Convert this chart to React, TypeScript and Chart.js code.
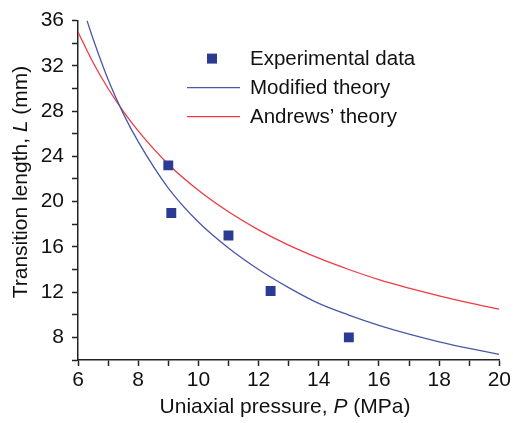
import React, { useEffect, useRef } from "react";
import { Chart, registerables } from "chart.js";

Chart.register(...registerables);

const expP = [9.0, 9.1, 11.0, 12.4, 15.0];
const expL = [23.2, 19.0, 17.0, 12.1, 8.0];

const modP = [6.3, 6.5, 7, 7.5, 8, 9, 10, 11, 12, 13, 14, 15, 16, 17, 18, 19, 20];
const modL = [36.0, 34.4, 30.8, 27.8, 25.3, 21.2, 18.2, 15.9, 14.0, 12.4, 11.0, 9.97, 9.06, 8.28, 7.61, 7.03, 6.5];

const andP = [6, 6.5, 7, 7.5, 8, 9, 10, 11, 12, 13, 14, 15, 16, 17, 18, 19, 20];
const andL = [35.0, 32.3, 30.0, 28.0, 26.25, 23.3, 21.0, 19.1, 17.5, 16.15, 15.0, 14.0, 13.1, 12.35, 11.67, 11.05, 10.5];

const xTicksMin = 6;
const xTicksMax = 20;
const yTicksMin = 6;
const yTicksMax = 36;

const seriesNames = ["Experimental data", "Modified theory", "Andrews\u2019 theory"];
const xTitleParts = [["Uniaxial pressure, ", false], ["P", true], [" (MPa)", false]] as [string, boolean][];
const yTitleParts = [["Transition length, ", false], ["L", true], [" (mm)", false]] as [string, boolean][];

const FONT = '"Liberation Sans", Arial, Helvetica, sans-serif';
const BLUE_M = "#2b3a93";
const BLUE_L = "#4a58a8";
const RED_L = "#ee3b45";

function drawParts(ctx: CanvasRenderingContext2D, parts: [string, boolean][], size: number) {
  let total = 0;
  const widths: number[] = [];
  for (const [t, it] of parts) {
    ctx.font = `${it ? "italic " : ""}${size}px ${FONT}`;
    const w = ctx.measureText(t).width;
    widths.push(w);
    total += w;
  }
  let x = -total / 2;
  parts.forEach(([t, it], i) => {
    ctx.font = `${it ? "italic " : ""}${size}px ${FONT}`;
    ctx.fillText(t, x, 0);
    x += widths[i];
  });
}

const decorPlugin = {
  id: "decor",
  afterDraw(chart: any) {
    const ctx = chart.ctx as CanvasRenderingContext2D;
    const a = chart.chartArea;
    ctx.save();
    ctx.fillStyle = "#111";
    ctx.textBaseline = "middle";
    ctx.textAlign = "left";
    // x title
    ctx.save();
    ctx.translate(285, 407);
    drawParts(ctx, xTitleParts, 21);
    ctx.restore();
    // y title
    ctx.save();
    ctx.translate(21, 182);
    ctx.rotate(-Math.PI / 2);
    drawParts(ctx, yTitleParts, 21);
    ctx.restore();
    // legend
    const lx = a.left + 109;
    const ly = a.top + 38;
    const gap = 29;
    ctx.fillStyle = BLUE_M;
    ctx.fillRect(lx + 20, ly - 5, 10, 10);
    ctx.lineWidth = 1.3;
    ctx.strokeStyle = BLUE_L;
    ctx.beginPath();
    ctx.moveTo(lx, ly + gap);
    ctx.lineTo(lx + 53, ly + gap);
    ctx.stroke();
    ctx.strokeStyle = RED_L;
    ctx.beginPath();
    ctx.moveTo(lx, ly + 2 * gap);
    ctx.lineTo(lx + 53, ly + 2 * gap);
    ctx.stroke();
    ctx.fillStyle = "#111";
    ctx.font = `20.5px ${FONT}`;
    seriesNames.forEach((n, i) => ctx.fillText(n, lx + 63, ly + i * gap + 1));
    ctx.restore();
  },
};

export default function App() {
  const ref = useRef<HTMLCanvasElement>(null);
  useEffect(() => {
    document.body.style.margin = "0";
    const chart = new Chart(ref.current!, {
      type: "scatter",
      data: {
        datasets: [
          {
            type: "scatter",
            label: seriesNames[0],
            data: expP.map((x, i) => ({ x, y: expL[i] })),
            pointStyle: "rect",
            pointRadius: 7,
            backgroundColor: BLUE_M,
            borderColor: BLUE_M,
            borderWidth: 0,
          },
          {
            type: "line",
            label: seriesNames[1],
            data: modP.map((x, i) => ({ x, y: modL[i] })),
            borderColor: BLUE_L,
            borderWidth: 1.3,
            pointRadius: 0,
            cubicInterpolationMode: "monotone",
            fill: false,
          },
          {
            type: "line",
            label: seriesNames[2],
            data: andP.map((x, i) => ({ x, y: andL[i] })),
            borderColor: RED_L,
            borderWidth: 1.3,
            pointRadius: 0,
            cubicInterpolationMode: "monotone",
            fill: false,
          },
        ] as any,
      },
      options: {
        animation: false,
        responsive: false,
        layout: { padding: { top: 20, right: 12, left: 0, bottom: 0 } },
        plugins: { legend: { display: false }, tooltip: { enabled: false } },
        scales: {
          x: {
            type: "linear",
            min: xTicksMin,
            max: xTicksMax,
            afterFit: (s: any) => { s.height = 63; },
            ticks: {
              stepSize: 1,
              autoSkip: false,
              maxRotation: 0,
              color: "#111",
              padding: 2,
              font: { family: FONT, size: 21 },
              callback: (v: any) => (Number(v) % 2 === 0 ? String(v) : ""),
            },
            grid: { display: true, drawOnChartArea: false, drawTicks: true, tickLength: 6, tickColor: "#222", tickWidth: 1.5 },
            border: { display: true, color: "#222", width: 1.5 },
          },
          y: {
            type: "linear",
            min: yTicksMin,
            max: yTicksMax,
            afterFit: (s: any) => { s.width = 78; },
            ticks: {
              stepSize: 2,
              autoSkip: false,
              color: "#111",
              padding: 8,
              font: { family: FONT, size: 21 },
              callback: (v: any) => (Number(v) % 4 === 0 ? String(v) : ""),
            },
            grid: { display: true, drawOnChartArea: false, drawTicks: true, tickLength: 6, tickColor: "#222", tickWidth: 1.5 },
            border: { display: true, color: "#222", width: 1.5 },
          },
        },
      },
      plugins: [decorPlugin],
    } as any);
    return () => chart.destroy();
  }, []);
  return <canvas ref={ref} width={513} height={423} style={{ display: "block" }} />;
}
